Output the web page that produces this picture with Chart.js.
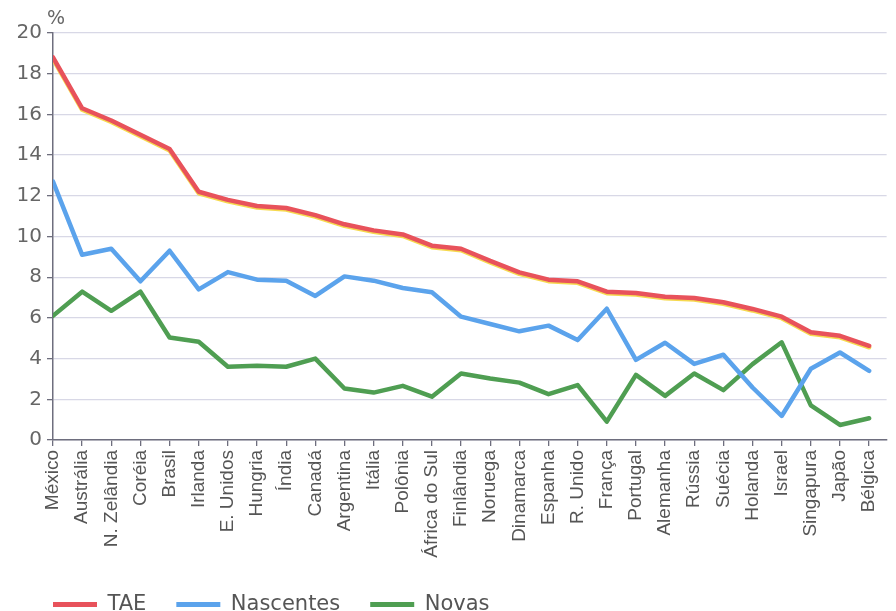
<!DOCTYPE html>
<html>
<head>
<meta charset="utf-8">
<script src="https://cdn.jsdelivr.net/npm/chart.js@4/dist/chart.umd.min.js"></script>
<style>
html,body{margin:0;padding:0;background:#fff;}
#wrap{width:896px;height:611px;position:relative;}
</style>
</head>
<body>
<div id="wrap"><canvas id="c"></canvas></div>
<script>
const categories = ["México","Austrália","N. Zelândia","Coréia","Brasil","Irlanda","E. Unidos","Hungria","Índia","Canadá","Argentina","Itália","Polônia","África do Sul","Finlândia","Noruega","Dinamarca","Espanha","R. Unido","França","Portugal","Alemanha","Rússia","Suécia","Holanda","Israel","Singapura","Japão","Bélgica"];
const tae = [18.8,16.3,15.7,15.0,14.3,12.2,11.8,11.5,11.4,11.05,10.6,10.3,10.1,9.55,9.4,8.8,8.24,7.88,7.8,7.29,7.22,7.04,6.98,6.77,6.44,6.06,5.29,5.12,4.63];
const nascentes = [12.7,9.1,9.4,7.8,9.3,7.4,8.25,7.88,7.83,7.08,8.04,7.83,7.47,7.26,6.06,5.7,5.34,5.62,4.91,6.45,3.94,4.78,3.74,4.19,2.58,1.18,3.5,4.3,3.4];
const novas = [6.1,7.29,6.35,7.29,5.04,4.83,3.6,3.65,3.6,4.0,2.53,2.33,2.66,2.13,3.27,3.02,2.82,2.25,2.7,0.9,3.2,2.17,3.27,2.45,3.73,4.8,1.7,0.74,1.07];
const yTicks = [0,2,4,6,8,10,12,14,16,18,20];
const seriesNames = ["TAE","Nascentes","Novas"];
const seriesColors = ["#e8525b","#5ba3ec","#4f9e52"];

const toPts = arr => arr.map((v,i)=>({x:i,y:v}));

const shadowPlugin = {
  id:'shadow',
  beforeDatasetDraw(chart,args){
    if(args.index===0){
      const ctx=chart.ctx; ctx.save();
      ctx.shadowColor='rgba(245,215,70,0.95)'; ctx.shadowOffsetY=1.5; ctx.shadowBlur=0;
    }
  },
  afterDatasetDraw(chart,args){ if(args.index===0){ chart.ctx.restore(); } }
};
const pctPlugin = {
  id:'pct',
  afterDraw(chart){
    const ctx=chart.ctx; ctx.save();
    ctx.font='19px "DejaVu Sans"'; ctx.fillStyle='#666'; ctx.textAlign='center'; ctx.textBaseline='middle';
    ctx.fillText('%', chart.chartArea.left+3, 19);
    ctx.restore();
  }
};
const legendShift = {
  id:'legendShift',
  afterLayout(chart){ if(chart.legend){ chart.legend.left += 23; chart.legend.right += 23; } }
};

new Chart(document.getElementById('c'), {
  type:'line',
  data:{
    datasets:[
      {label:seriesNames[0], data:toPts(tae), borderColor:seriesColors[0], backgroundColor:seriesColors[0]},
      {label:seriesNames[1], data:toPts(nascentes), borderColor:seriesColors[1], backgroundColor:seriesColors[1]},
      {label:seriesNames[2], data:toPts(novas), borderColor:seriesColors[2], backgroundColor:seriesColors[2]}
    ]
  },
  options:{
    responsive:true, maintainAspectRatio:false, animation:false,
    elements:{line:{borderWidth:4.5,tension:0,borderJoinStyle:'round',borderCapStyle:'round'},point:{radius:0,hoverRadius:0}},
    layout:{padding:{left:0,top:33,right:3,bottom:-14}},
    plugins:{
      tooltip:{enabled:false},
      legend:{
        position:'bottom', align:'start',
        labels:{
          boxWidth:44, boxHeight:5, padding:30,
          font:{family:'"DejaVu Sans"', size:21}, color:'#555',
          generateLabels(chart){
            return chart.data.datasets.map((d,i)=>({text:d.label, fillStyle:d.borderColor, strokeStyle:d.borderColor, lineWidth:0, hidden:false, datasetIndex:i, fontColor:'#555'}));
          }
        }
      }
    },
    scales:{
      x:{
        type:'linear', min:0, max:28.6,
        afterBuildTicks(s){ s.ticks = categories.map((_,i)=>({value:i})); },
        afterFit(s){ s.height = 124; },
        ticks:{autoSkip:false, maxRotation:90, minRotation:90, padding:4,
          font:{family:'"Liberation Sans"', size:19}, color:'#555',
          callback:(v)=>categories[v]},
        grid:{drawOnChartArea:false, drawTicks:true, tickLength:6, tickColor:'#6e6e7e', lineWidth:1.3},
        border:{display:true,color:'#6e6e7e',width:1.5}
      },
      y:{
        min:0, max:20,
        afterBuildTicks(s){ s.ticks = yTicks.map(v=>({value:v})); },
        afterFit(s){ s.width = 53; },
        ticks:{padding:5, font:{family:'"DejaVu Sans"', size:20}, color:'#666'},
        grid:{color:'#d8d8e6', lineWidth:1.3, tickLength:6, tickColor:'#6e6e7e'},
        border:{display:true,color:'#6e6e7e',width:1.5}
      }
    }
  },
  plugins:[shadowPlugin,pctPlugin,legendShift]
});
</script>
</body>
</html>
